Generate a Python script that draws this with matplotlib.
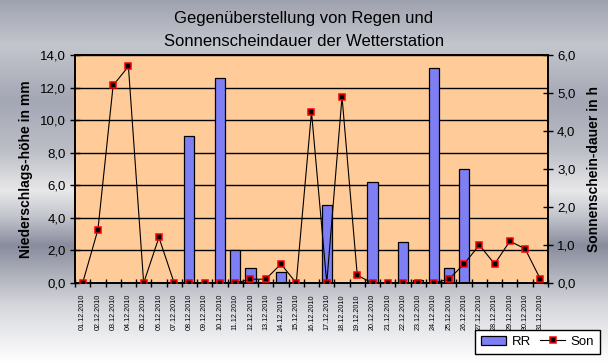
import matplotlib
matplotlib.use("Agg")
import matplotlib.pyplot as plt
import numpy as np
from matplotlib.ticker import FixedLocator, FuncFormatter

plt.rcParams["font.family"] = ["Liberation Sans", "DejaVu Sans"]

dates = [f"{d:02d}.12.2010" for d in range(1, 32)]
rain = [0.0, 0.0, 0.0, 0.0, 0.0, 0.0, 0.0, 9.0, 0.0, 12.6,
        2.0, 0.9, 0.0, 0.7, 0.0, 0.0, 4.8, 0.0, 0.0, 6.2,
        0.0, 2.5, 0.2, 13.2, 0.9, 7.0, 0.0, 0.0, 0.0, 0.0, 0.0]
sun = [0.0, 1.4, 5.2, 5.7, 0.0, 1.2, 0.0, 0.0, 0.0, 0.0,
       0.0, 0.1, 0.1, 0.5, 0.0, 4.5, 0.0, 4.9, 0.2, 0.0,
       0.0, 0.0, 0.0, 0.0, 0.1, 0.5, 1.0, 0.5, 1.1, 0.9, 0.1]

W, H = 608, 362
fig = plt.figure(figsize=(W / 100, H / 100), dpi=100)

# metallic background gradient (pixel row, rgb)
stops_y = [0, 15, 45, 100, 150, 190, 215, 245, 275, 305, 362]
stops_c = [(158, 162, 174), (172, 175, 186), (196, 198, 205), (164, 167, 180),
           (188, 190, 198), (232, 232, 234), (196, 198, 206), (136, 140, 156),
           (176, 178, 188), (214, 215, 220), (255, 255, 255)]
rows = np.arange(H)
grad = np.stack([np.interp(rows, stops_y, [c[i] for c in stops_c]) for i in range(3)], axis=-1) / 255.0
bg = fig.add_axes([0, 0, 1, 1], zorder=-10)
bg.imshow(grad[:, None, :], aspect="auto", extent=(0, 1, 0, 1))
bg.axis("off")

x = np.arange(len(dates))
ax = fig.add_axes([75 / W, (H - 283) / H, (548 - 75) / W, (283 - 55) / H])
ax.set_facecolor("#ffcc99")
ax.set_axisbelow(True)
ax.bar(x, rain, width=0.66, color="#7f7ff5", edgecolor="black", linewidth=0.9, label="RR", zorder=2)
ax.set_xlim(-0.5, len(dates) - 0.5)
ax.set_ylim(0, 14)
ax.yaxis.set_major_locator(FixedLocator(np.arange(0, 15, 2)))
fmt = FuncFormatter(lambda v, p: f"{v:.1f}".replace(".", ","))
ax.yaxis.set_major_formatter(fmt)
ax.grid(axis="y", color="black", linewidth=1.0)
ax.set_xticks(x)
ax.set_xticklabels(dates, rotation=90, fontsize=5.2)
ax.set_xticks(np.arange(-0.5, len(dates)), minor=True)
ax.tick_params(axis="x", which="major", length=0, pad=8)
ax.tick_params(axis="x", which="minor", direction="inout", length=6, width=1)
ax.tick_params(axis="y", direction="inout", length=7, width=1, labelsize=9.5, pad=3)
for s in ax.spines.values():
    s.set_linewidth(1.2)
ax.set_ylabel("Niederschlags-höhe in mm", fontsize=10, fontweight="bold", labelpad=5)

ax2 = ax.twinx()
ax2.plot(x, sun, color="black", linewidth=0.8, marker="s", markersize=4.3,
         markerfacecolor="black", markeredgecolor="#ff0000", markeredgewidth=1.1,
         label="Son", zorder=3)
ax2.set_ylim(0, 6)
ax2.yaxis.set_major_locator(FixedLocator(np.arange(0, 7, 1)))
ax2.yaxis.set_major_formatter(fmt)
ax2.tick_params(axis="y", direction="inout", length=7, width=1, labelsize=9.5, pad=3)
ax2.set_ylabel("Sonnenschein-dauer in h", fontsize=10, fontweight="bold", labelpad=8)
for s in ax2.spines.values():
    s.set_linewidth(1.2)

fig.text(304 / W, 1 - 18 / H, "Gegenüberstellung von Regen und", ha="center", va="center", fontsize=12)
fig.text(304 / W, 1 - 42 / H, "Sonnenscheindauer der Wetterstation", ha="center", va="center", fontsize=12)

h1, l1 = ax.get_legend_handles_labels()
h2, l2 = ax2.get_legend_handles_labels()
leg = fig.legend(h1 + h2, l1 + l2, loc="lower right", bbox_to_anchor=(600 / W, 8 / H),
                 ncol=2, fontsize=9.5, frameon=True, fancybox=False, framealpha=1,
                 edgecolor="black", handlelength=1.9, handletextpad=0.4, columnspacing=0.7,
                 borderpad=0.45, borderaxespad=0)
leg.get_frame().set_linewidth(1.0)

fig.savefig("out.png", dpi=100)
